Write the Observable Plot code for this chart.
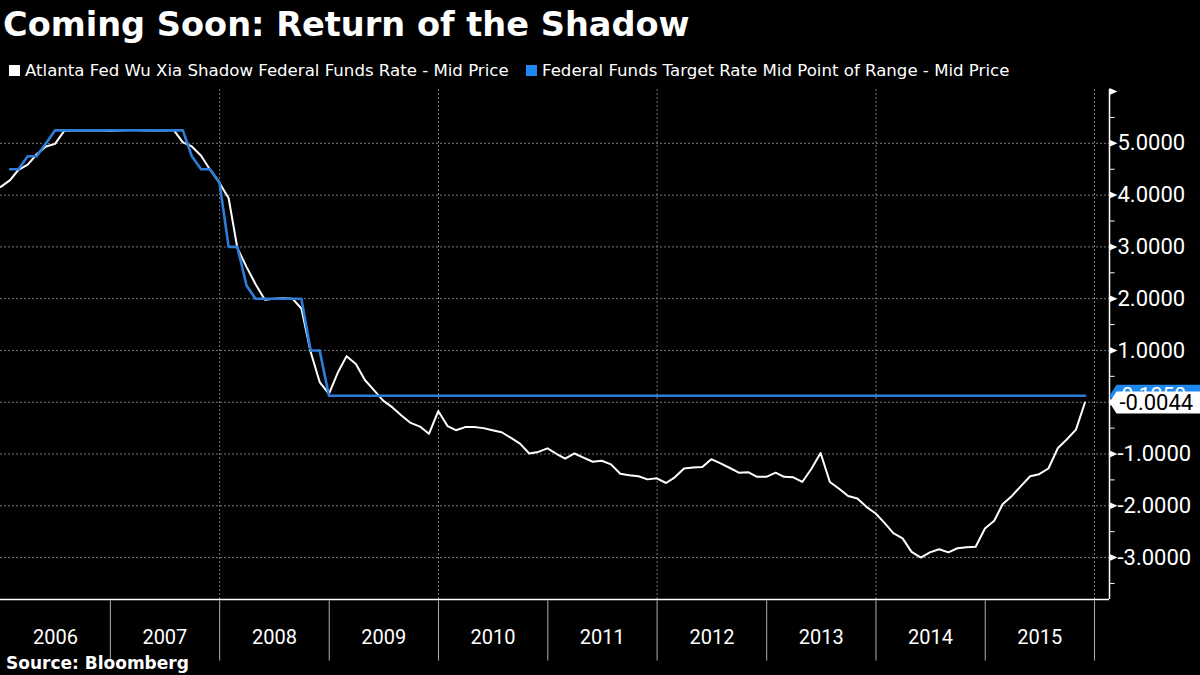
<!DOCTYPE html>
<html>
<head>
<meta charset="utf-8">
<script src="https://cdn.jsdelivr.net/npm/d3@7"></script>
<script src="https://cdn.jsdelivr.net/npm/@observablehq/plot@0.6"></script>
<style>
  html, body { margin: 0; padding: 0; background: #000; }
  body { width: 1200px; height: 675px; overflow: hidden; position: relative; color: #fff; }
  #title { position: absolute; left: 3px; top: 0; height: 50px; line-height: 50px;
           font-family: "DejaVu Sans"; font-weight: bold; font-size: 33.6px; white-space: nowrap; }
  #legend { position: absolute; left: 0; top: 56px; height: 30px; width: 1200px;
            font-family: "DejaVu Sans"; font-size: 16.6px; line-height: 30px; white-space: nowrap; }
  .item { position: absolute; top: 0; }
  .sw { display: inline-block; width: 11px; height: 11px; margin-right: 5px; }
  #chart { position: absolute; left: 0; top: 80px; }
  #source { position: absolute; left: 6px; top: 653px; line-height: 20px;
            font-family: "DejaVu Sans"; font-weight: bold; font-size: 17px; white-space: nowrap; }
</style>
</head>
<body>
<div id="title">Coming Soon: Return of the Shadow</div>
<div id="legend">
  <span class="item" style="left:9px"><span class="sw" style="background:#fff"></span>Atlanta Fed Wu Xia Shadow Federal Funds Rate - Mid Price</span>
  <span class="item" style="left:526px"><span class="sw" style="background:#1f88ee"></span>Federal Funds Target Rate Mid Point of Range - Mid Price</span>
</div>
<div id="chart"></div>
<div id="source">Source: Bloomberg</div>
<script>
// ---- data (month-end readings) ----
const shadowStartYear = 2005, shadowStartMonth = 12; // Dec 2005
const shadowValues = [
  4.16,
  4.29, 4.49, 4.59, 4.79, 4.94, 4.99, 5.24, 5.25, 5.25, 5.25, 5.25, 5.24,
  5.25, 5.26, 5.26, 5.25, 5.25, 5.25, 5.26, 5.02, 4.94, 4.76, 4.49, 4.24,
  3.94, 2.98, 2.61, 2.28, 1.98, 2.00, 2.01, 2.00, 1.81, 0.97, 0.39, 0.16,
  0.59, 0.89, 0.74, 0.43, 0.23, 0.03, -0.10, -0.26, -0.40, -0.47, -0.61, -0.17,
  -0.46, -0.54, -0.48, -0.48, -0.50, -0.54, -0.58, -0.69, -0.80, -0.99, -0.96, -0.89,
  -1.00, -1.09, -0.99, -1.07, -1.15, -1.13, -1.20, -1.38, -1.41, -1.43, -1.49, -1.47,
  -1.56, -1.45, -1.28, -1.26, -1.25, -1.10, -1.18, -1.27, -1.36, -1.35, -1.44, -1.44,
  -1.36, -1.44, -1.45, -1.54, -1.28, -0.98, -1.54, -1.67, -1.81, -1.86, -2.02, -2.15,
  -2.34, -2.53, -2.63, -2.89, -3.00, -2.90, -2.84, -2.90, -2.82, -2.80, -2.79, -2.44,
  -2.29, -1.97, -1.81, -1.62, -1.43, -1.39, -1.28, -0.89, -0.72, -0.53, -0.0044
];
// Fed funds target (mid point) — vertices of the monthly series
const targetMonths = ["2006-01","2006-02","2006-03","2006-04","2006-05","2006-06",
  "2007-08","2007-09","2007-10","2007-11","2007-12",
  "2008-01","2008-02","2008-03","2008-04","2008-09","2008-10","2008-11","2008-12","2015-11"];
const targetValues = [4.5, 4.5, 4.75, 4.75, 5.0, 5.25,
  5.25, 4.75, 4.5, 4.5, 4.25,
  3.0, 3.0, 2.25, 2.0, 2.0, 1.0, 1.0, 0.125, 0.125];

const yMajor = [-3, -2, -1, 0, 1, 2, 3, 4, 5, 6];
const yLabels = [-3, -2, -1, 1, 2, 3, 4, 5];
const yMinor = [-3.5, -2.5, -1.5, -0.5, 0.5, 1.5, 2.5, 3.5, 4.5, 5.5];
const yGrid = [-3, -2, -1, 0, 1, 2, 3, 4, 5];
const xGridYears = [2008, 2010, 2012, 2014, 2016];
const yearLabels = [2006, 2007, 2008, 2009, 2010, 2011, 2012, 2013, 2014, 2015];
const yearSeparators = [2007, 2008, 2009, 2010, 2011, 2012, 2013, 2014, 2015, 2016];
const lastShadow = -0.0044, lastTarget = 0.125;

// ---- build tables ----
const monthEnd = (y, m) => new Date(Date.UTC(y, m, 0));
const shadow = shadowValues.map((v, i) => ({date: monthEnd(shadowStartYear, shadowStartMonth + i), value: v}));
const target = targetMonths.map((s, i) => {
  const [y, m] = s.split("-").map(Number);
  return {date: monthEnd(y, m), value: targetValues[i]};
});
const jan1 = y => new Date(Date.UTC(y, 0, 1));
const mid = y => new Date(Date.UTC(y, 6, 2));

const xDomain = [new Date(Date.UTC(2005, 11, 30)), new Date(Date.UTC(2016, 1, 20))];
const yDomain = [-3.81, 6.04];

// custom symbols (shapes drawn at anchor points)
const flag = {draw(c) { c.moveTo(0, -3.5); c.lineTo(8, 0); c.lineTo(0, 3.5); c.closePath(); }};
const minorTick = {draw(c) { c.moveTo(0, 0); c.lineTo(5, 0); }};
const sepLine = {draw(c) { c.moveTo(0, 1); c.lineTo(0, 61); }};
const tag = {draw(c) { c.moveTo(0, 0); c.lineTo(7, -11); c.lineTo(100, -11); c.lineTo(100, 11); c.lineTo(7, 11); c.closePath(); }};

const blue = "#2d7ed8";
const fmt = d => d.toFixed(4);

const chart = Plot.plot({
  width: 1200,
  height: 582,
  marginTop: 9,
  marginBottom: 63,
  marginLeft: 0,
  marginRight: 91,
  style: {background: "#000", color: "#fff", fontFamily: "Roboto", overflow: "visible"},
  x: {type: "utc", domain: xDomain, axis: null},
  y: {domain: yDomain, axis: null},
  marks: [
    Plot.ruleY(yGrid, {stroke: "#7a7a7a", strokeDasharray: "2,2", strokeWidth: 1}),
    Plot.ruleX(xGridYears.map(jan1), {stroke: "#7a7a7a", strokeDasharray: "2,2", strokeWidth: 1}),
    Plot.line(shadow, {x: "date", y: "value", stroke: "#fff", strokeWidth: 2}),
    Plot.line(target, {x: "date", y: "value", stroke: blue, strokeWidth: 2.6}),
    Plot.ruleY([yDomain[0]], {stroke: "#fff", strokeWidth: 1.5}),
    Plot.ruleX([xDomain[1]], {stroke: "#fff", strokeWidth: 1.5}),
    Plot.dot(yearSeparators.map(jan1), {x: d => d, frameAnchor: "bottom", symbol: sepLine, stroke: "#b0b0b0", fill: "none", strokeWidth: 1}),
    Plot.text(yearLabels, {x: d => mid(d), text: d => String(d), frameAnchor: "bottom", dy: 44, fill: "#fff", fontSize: 20}),
    Plot.dot(yMajor, {y: d => d, frameAnchor: "right", symbol: flag, fill: "#fff", stroke: "none"}),
    Plot.dot(yMinor, {y: d => d, frameAnchor: "right", symbol: minorTick, stroke: "#fff", fill: "none", strokeWidth: 1}),
    Plot.text(yLabels, {y: d => d, text: fmt, frameAnchor: "right", textAnchor: "start", dx: 8, fill: "#fff", fontSize: 22}),
    Plot.dot([lastTarget], {y: d => d, frameAnchor: "right", symbol: tag, fill: "#1f88ee", stroke: "none"}),
    Plot.text([lastTarget], {y: d => d, text: fmt, frameAnchor: "right", textAnchor: "start", dx: 12, fill: "#fff", fontSize: 21}),
    Plot.dot([lastShadow], {y: d => d, frameAnchor: "right", symbol: tag, fill: "#fff", stroke: "none"}),
    Plot.text([lastShadow], {y: d => d, text: fmt, frameAnchor: "right", textAnchor: "start", dx: 10, fill: "#000", fontSize: 22})
  ]
});
document.getElementById("chart").appendChild(chart);
</script>
</body>
</html>
